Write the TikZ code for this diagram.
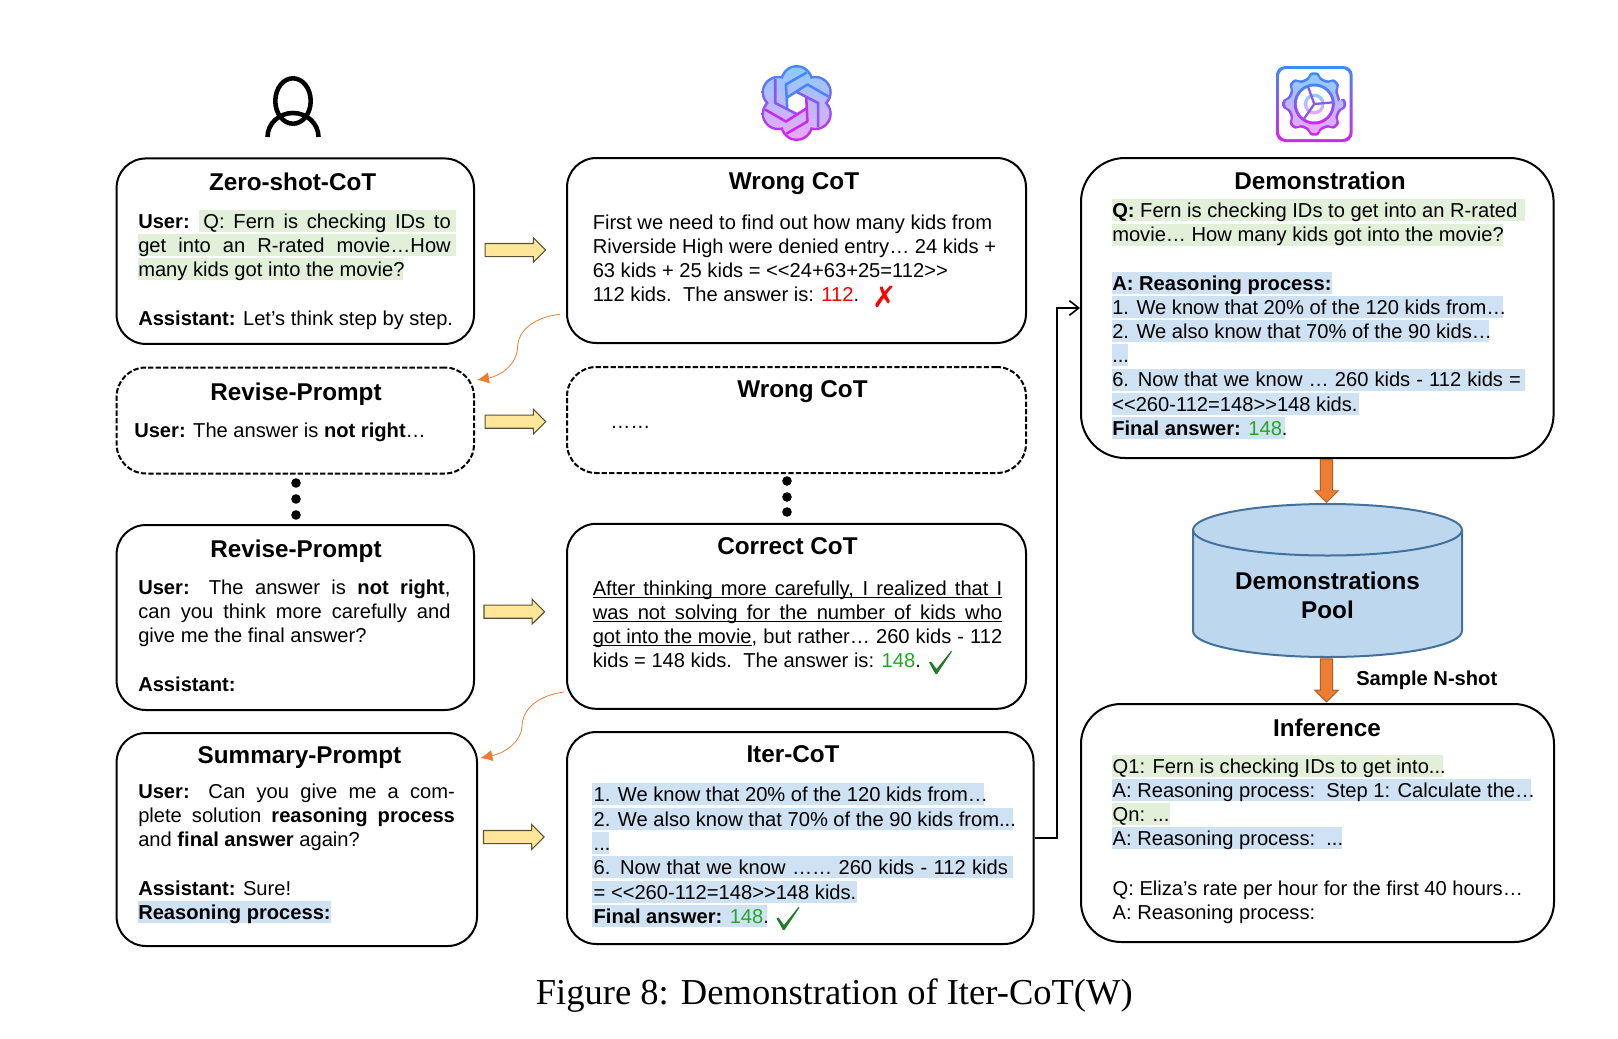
\documentclass[tikz,border=0pt]{standalone}
\usepackage{fontspec}
\setmainfont{Liberation Sans}
\newfontfamily\capfont{Liberation Serif}
\newfontfamily\symfont{DejaVu Sans}
\usetikzlibrary{
arrows.meta,
shapes.arrows,
}
\definecolor{hlgreenc}{HTML}{E2EFD9}
\definecolor{hlbluec}{HTML}{CFE2F3}
\definecolor{ansgreen}{HTML}{22A822}
\definecolor{tickgreen}{HTML}{1F7A2A}
\definecolor{yellowc}{HTML}{FFE699}
\definecolor{orangec}{HTML}{ED7D31}
\definecolor{poolc}{HTML}{BDD7EE}
\definecolor{pooledge}{HTML}{41719C}
\definecolor{iconblue}{HTML}{3C8CFF}
\definecolor{iconpink}{HTML}{D522F0}
\definecolor{iconbluel}{HTML}{8CCBFF}
\definecolor{iconpinkl}{HTML}{EBA8FA}
\newcommand{\bodyfont}{\fontsize{15.1}{18}\selectfont}
\newcommand{\titlefont}{\bfseries\fontsize{18.2}{21.7}\selectfont}
\newcommand{\ulsmash}[1]{\underline{\smash{#1}}}
\tikzset{
	cotbox/.style={draw, line width=1.5pt, rounded corners=22pt, inner sep=0pt},
	dashbox/.style={cotbox, dash pattern=on 4pt off 1.6pt},
	wh/.style 2 args={minimum width=#1*0.75pt, minimum height=#2*0.75pt},
	title/.style={anchor=base, inner sep=0pt, font=\titlefont},
	txt/.style={anchor=base west, inner sep=0pt},
	hlgreen/.style={fill=hlgreenc},
	hlblue/.style={fill=hlbluec},
	yarrow/.style={single arrow, draw=black!65!yellowc, fill=yellowc, line width=0.8pt, inner xsep=0pt, inner ysep=4.5pt,
		minimum height=45.4pt, single arrow head extend=4.35pt},
	oarrow/.style={single arrow, shape border rotate=270, draw=orangec!75!black, fill=orangec, line width=0.7pt, inner ysep=0pt, inner xsep=4.28pt,
		minimum height=32.2pt, single arrow head extend=4.24pt},
	curvearrow/.style={draw=orangec, line width=0.6pt, -{Latex[length=9pt,width=8.5pt]}},
	elbow/.style={line width=1.4pt, -{Straight Barb[length=7pt,width=11pt,line width=1.2pt]}},
	tickmark/.pic={\fill[tickgreen] (0,11.5) -- (2,10.5) -- (7.5,18) -- (22,0) -- (23,0.5) -- (8,23) -- (6.5,23) -- cycle;},
}
\begin{document}
\begin{tikzpicture}[x=0.75pt, y=-0.75pt, every node/.style={font=\bodyfont}]
	\useasboundingbox (0,0) rectangle (1618,1039);

	% highlights
	\foreach \xa/\xb/\yb in {198.7/455.6/228, 138/455.6/252, 138/403/276,
			1112/1525/217, 1112/1503/241.5,
			1112.4/1442.6/772.5, 1112.4/1170/821}
		\fill[hlgreen] (\xa,\yb-18) rectangle (\xb,\yb+4);
	\foreach \xa/\xb/\yb in {138/330.7/919,
			592.4/984.4/801, 592.4/1013/825.5, 592.4/609.4/850, 592.4/1013/874.3, 592.4/857/898.7, 592.4/766.8/923,
			1112/1332/290, 1112/1503/314, 1112/1489/338, 1112/1128/362, 1112/1525/386.5, 1112/1359/411, 1112/1285/435,
			1112.4/1531/796.7, 1112.4/1342/845}
		\fill[hlblue] (\xa,\yb-18) rectangle (\xb,\yb+4);

	% boxes
	\node[cotbox, wh={357.4}{185.5}] (zero) at (295.3,251.2) {};
	\node[dashbox, wh={357.4}{106}] (revise) at (295.3,420.5) {};
	\node[cotbox, wh={357.4}{185}] (reviseb) at (295.3,617.5) {};
	\node[cotbox, wh={360.4}{213}] (summary) at (296.8,839.5) {};
	\node[cotbox, wh={459}{185}] (wrong) at (796.5,250.5) {};
	\node[dashbox, wh={459}{106}] (wrongb) at (796.5,420) {};
	\node[cotbox, wh={459}{185}] (correct) at (796.5,616.3) {};
	\node[cotbox, wh={466.5}{212}] (iter) at (800.25,838) {};
	\node[cotbox, rounded corners=33pt, wh={472.6}{300}] (demo) at (1317.3,308) {};
	\node[cotbox, rounded corners=30pt, wh={473}{238}] (infer) at (1317.5,823) {};

	% left column
	\node[title] (zeroT) at (292.6,190) {Zero-shot-CoT};
	\node[txt] (zeroA) at (138,228.5) {\makebox[234.4pt][s]{\textbf{User:} Q: Fern is checking IDs to}};
	\node[txt] (zeroB) at (138,252.5) {\makebox[234.4pt][s]{get into an R-rated movie…How}};
	\node[txt] (zeroC) at (138,276.5) {many kids got into the movie?};
	\node[txt] (zeroD) at (138,325) {\textbf{Assistant:} Let’s think step by step.};

	\node[title] (reviseT) at (296,400.3) {Revise-Prompt};
	\node[txt] (reviseA) at (134,437) {\textbf{User:} The answer is \textbf{not right}…};

	\foreach \y in {483,499,515} \fill (296,\y) circle[radius=4.8];

	\node[title] (revisebT) at (296,557.7) {Revise-Prompt};
	\node[txt] (revisebA) at (138,594.5) {\makebox[234.2pt][s]{\textbf{User:} The answer is \textbf{not right},}};
	\node[txt] (revisebB) at (138,618.5) {\makebox[234.2pt][s]{can you think more carefully and}};
	\node[txt] (revisebC) at (138,642.5) {give me the final answer?};
	\node[txt] (revisebD) at (138,691.5) {\textbf{Assistant:}};

	\node[title] (summaryT) at (299.5,763.7) {Summary-Prompt};
	\node[txt] (summaryA) at (138,798.7) {\makebox[237.5pt][s]{\textbf{User:} Can you give me a com-}};
	\node[txt] (summaryB) at (138,822.7) {\makebox[237.5pt][s]{plete solution \textbf{reasoning process}}};
	\node[txt] (summaryC) at (138,846.7) {and \textbf{final answer} again?};
	\node[txt] (summaryD) at (138,895.5) {\textbf{Assistant:} Sure!};
	\node[txt] (summaryE) at (138,919.5) {\textbf{Reasoning process:}};

	% middle column
	\node[title] (wrongT) at (794,189) {Wrong CoT};
	\node[txt] (wrongA) at (592.5,229) {First we need to find out how many kids from};
	\node[txt] (wrongC) at (592.5,253) {Riverside High were denied entry… 24 kids +};
	\node[txt] (wrongD) at (592.5,277) {63 kids + 25 kids = <{}<24+63+25=112>{}>};
	\node[txt] (wrongE) at (592.5,301) {112 kids.\ \ The answer is: \textcolor{red}{112}.};
	\node[text=red, inner sep=0pt, font=\symfont\fontsize{22}{22}\selectfont] (wrongX) at (884.5,297) {✗};

	\node[title] (wrongbT) at (802.5,397.7) {Wrong CoT};
	\node[txt] (wrongbA) at (610,428) {……};

	\foreach \y in {481,497,512} \fill (787,\y) circle[radius=4.8];

	\node[title] (correctT) at (787.5,554) {Correct CoT};
	\node[txt] (correctA) at (592.5,595) {\ulsmash{\makebox[307.1pt][s]{After thinking more carefully, I realized that I}}};
	\node[txt] (correctB) at (592.5,619) {\ulsmash{\makebox[307.1pt][s]{was not solving for the number of kids who}}};
	\node[txt] (correctC) at (592.5,643) {\makebox[307.1pt][s]{\ulsmash{got into the movie}, but rather… 260 kids - 112}};
	\node[txt] (correctD) at (592.5,667) {kids = 148 kids.\ \ The answer is: \textcolor{ansgreen}{148}.};
	\pic (correctK) at (929,651) {tickmark};

	\node[title] (iterT) at (793,762.5) {Iter-CoT};
	\node[txt] (iterA) at (593.4,801.5) {1. We know that 20\% of the 120 kids from…};
	\node[txt] (iterB) at (593.4,826) {2. We also know that 70\% of the 90 kids from...};
	\node[txt] (iterC) at (593.4,850.5) {...};
	\node[txt] (iterD) at (593.4,874.8) {\makebox[310.7pt][s]{6. Now that we know …… 260 kids - 112 kids}};
	\node[txt] (iterE) at (593.4,899.2) {= <{}<260-112=148>{}>148 kids.};
	\node[txt] (iterF) at (593.4,923.5) {\textbf{Final answer:} \textcolor{ansgreen}{148}.};
	\pic (iterK) at (776.5,907) {tickmark};

	% right column
	\node[title] (demoT) at (1320,189.3) {Demonstration};
	\node[txt] (demoA) at (1112,217) {\textbf{Q:} Fern is checking IDs to get into an R-rated};
	\node[txt] (demoB) at (1112,241.5) {movie… How many kids got into the movie?};
	\node[txt] (demoC) at (1112,290) {\textbf{A: Reasoning process:}};
	\node[txt] (demoD) at (1112,314) {1. We know that 20\% of the 120 kids from…};
	\node[txt] (demoE) at (1112,338) {2. We also know that 70\% of the 90 kids…};
	\node[txt] (demoF) at (1112,362) {...};
	\node[txt] (demoG) at (1112,386.5) {\makebox[306.5pt][s]{6. Now that we know … 260 kids - 112 kids =}};
	\node[txt] (demoH) at (1112,411) {<{}<260-112=148>{}>148 kids.};
	\node[txt] (demoI) at (1112,435) {\textbf{Final answer:} \textcolor{ansgreen}{148}.};

	\filldraw[fill=poolc, draw=pooledge, line width=1.5pt] (1193,530) -- (1193,631)
		arc[start angle=180, end angle=0, x radius=134.5, y radius=26] -- (1462,530)
		arc[start angle=0, end angle=-180, x radius=134.5, y radius=26] -- cycle;
	\draw[pooledge, line width=1.5pt] (1193,530) arc[start angle=180, end angle=0, x radius=134.5, y radius=25.5];
	\node[inner sep=0pt, align=center, font=\titlefont] (pool) at (1327.5,595) {Demonstrations\\Pool};

	\node[oarrow] (demoPool) at (1326.5,478) {};
	\node[oarrow] (poolInfer) at (1326.5,677.3) {};
	\node[txt] (sample) at (1356,685) {\textbf{Sample N-shot}};

	\node[title] (inferT) at (1327,736) {Inference};
	\node[txt] (inferA) at (1112.4,773.2) {Q1: Fern is checking IDs to get into...};
	\node[txt] (inferB) at (1112.4,797.4) {A: Reasoning process:\ \ Step 1: Calculate the…};
	\node[txt] (inferC) at (1112.4,821.7) {Qn: ...};
	\node[txt] (inferD) at (1112.4,845.7) {A: Reasoning process:\ \ ...};
	\node[txt] (inferE) at (1112.4,895) {Q: Eliza’s rate per hour for the first 40 hours…};
	\node[txt] (inferF) at (1112.4,919) {A: Reasoning process:};

	% arrows
	\node[yarrow] (zeroWrong) at (512.2,250) {};
	\node[yarrow] (reviseWrong) at (512.2,421.7) {};
	\node[yarrow] (revisebCorrect) at (511,611.7) {};
	\node[yarrow] (summaryIter) at (510.5,837) {};

	\coordinate (bend) at (1057,0);
	\draw[elbow] (iter.east) -- (iter.east -| bend) -- (demo.west -| bend) -- (demo.west);

	\coordinate (wrongOut) at (560,314.3);
	\coordinate (reviseIn) at (477,380);
	\coordinate (correctOut) at (564,692);
	\coordinate (summaryIn) at (480.4,758);
	\draw[curvearrow] (wrongOut) .. controls (535,317) and (518,330) .. (517.6,347) .. controls (517,365) and (500,376) .. (reviseIn);
	\draw[curvearrow] (correctOut) .. controls (540,695) and (522,708) .. (522,726.7) .. controls (521,742) and (505,753) .. (summaryIn);

	% person icon
	\draw[line width=3.4pt] (293,101) ellipse[x radius=17.7, y radius=22.7];
	\draw[line width=3.4pt] (267.5,137) arc[start angle=180, end angle=360, x radius=25.5, y radius=24];

	% knot icon
	\begin{scope}[shift={(796.7,103)}, yscale=-1, scale=1.1]
		\shade[top color=iconblue, bottom color=iconpink]
			foreach \a in {30,90,...,330} {(\a:19.5) circle[radius=15]};
		\shade[top color=iconbluel, bottom color=iconpinkl]
			foreach \a in {30,90,...,330} {(\a:19.5) circle[radius=12.8]};
		\fill[white] (30:10) -- (90:10) -- (150:10) -- (210:10) -- (270:10) -- (330:10) -- cycle;
		\foreach \a in {0,60,...,300} {
			\pgfmathsetmacro\mix{50-50*sin(\a+120)}
			\draw[iconpink!\mix!iconblue, line width=1.9pt, line join=round] (\a+210:10) -- (\a+120:19.5) -- ++(\a+30:22);
		}
	\end{scope}

	% gear icon
	\shade[top color=iconblue, bottom color=iconpink, rounded corners=7pt] (1276,66) rectangle (1352.7,142);
	\fill[white, rounded corners=5.5pt] (1279,69) rectangle (1349.7,139);
	\begin{scope}[shift={(1314.3,104)}]
		\shade[top color=iconblue, bottom color=iconpink, rounded corners=2pt]
			(0:27) foreach \t in {0,45,...,315} {-- (\t-13:27) -- (\t-8:32) -- (\t+8:32) -- (\t+13:27)} -- cycle;
		\shade[top color=iconbluel, bottom color=iconpinkl, rounded corners=2pt]
			(0:24.5) foreach \t in {0,45,...,315} {-- (\t-11:24.5) -- (\t-7:29.3) -- (\t+7:29.3) -- (\t+11:24.5)} -- cycle;
		\shade[top color=iconblue, bottom color=iconpink] (0,0) circle[radius=20.5];
		\fill[white] (0,0) circle[radius=17.5];
		\shade[top color=iconbluel, bottom color=iconpinkl] (0,0) circle[radius=10.5];
		\fill[white] (0,0) circle[radius=7];
		\draw[iconblue!50!iconpink, line width=1.7pt] (-110:18.5) -- (0,0) -- (-5:18.5) (0,0) -- (125:18.5);
	\end{scope}

	% caption
	\node[anchor=base west, inner sep=0pt, font=\capfont\fontsize{27.4}{32}\selectfont] (caption) at (535.6,1004) {Figure 8: Demonstration of Iter-CoT(W)};
\end{tikzpicture}
\end{document}
